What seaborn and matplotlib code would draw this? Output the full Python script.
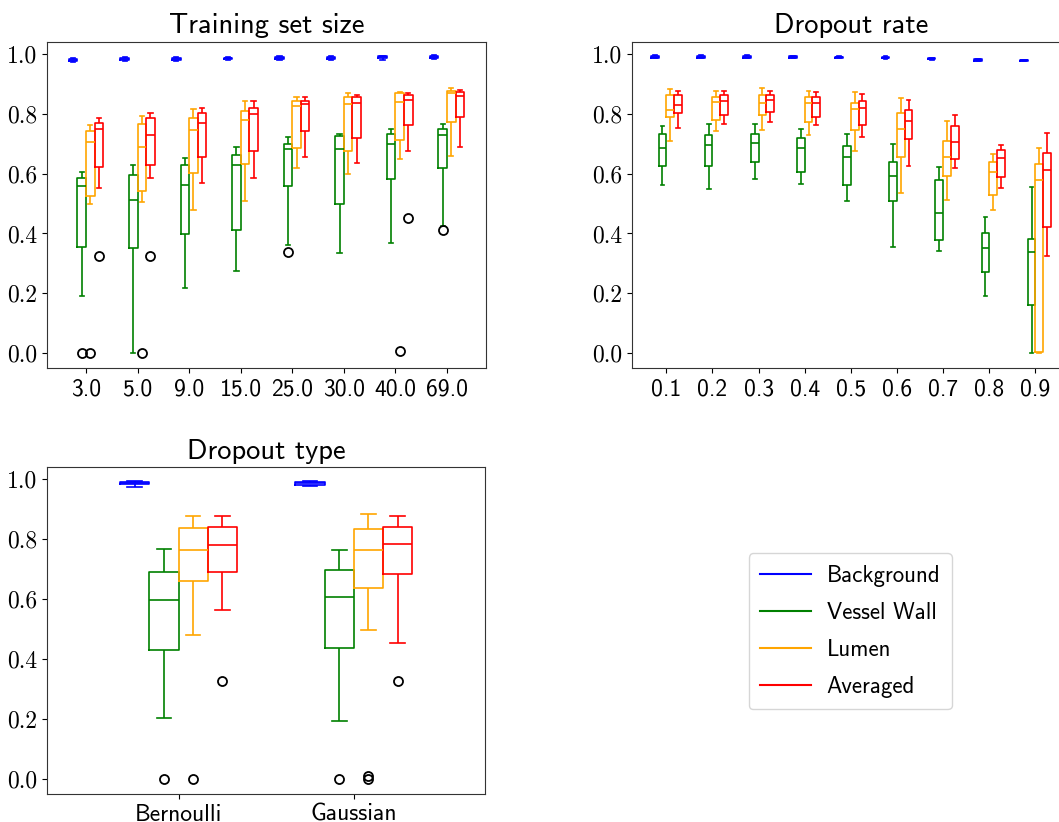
import pandas as pd
import seaborn as sns
import matplotlib.pyplot as plt
from matplotlib.lines import Line2D

# -----------------------------------------------------------------------------
# Datos: cada caja = (bigote inf, Q1, mediana, Q3, bigote sup)
# -----------------------------------------------------------------------------
classes = ["Background", "Vessel Wall", "Lumen", "Averaged"]
colors = ["blue", "green", "orange", "red"]

size_labels = ["3.0", "5.0", "9.0", "15.0", "25.0", "30.0", "40.0", "69.0"]
size_background = [
    (0.973, 0.976, 0.979, 0.982, 0.985),
    (0.977, 0.980, 0.983, 0.986, 0.989),
    (0.977, 0.980, 0.983, 0.986, 0.989),
    (0.978, 0.981, 0.984, 0.987, 0.990),
    (0.979, 0.982, 0.985, 0.988, 0.991),
    (0.978, 0.983, 0.986, 0.989, 0.992),
    (0.978, 0.985, 0.988, 0.991, 0.993),
    (0.982, 0.985, 0.988, 0.991, 0.994),
]
size_wall = [
    (0.192, 0.356, 0.559, 0.584, 0.606),
    (0.000, 0.352, 0.512, 0.595, 0.630),
    (0.217, 0.398, 0.562, 0.630, 0.651),
    (0.276, 0.411, 0.628, 0.663, 0.689),
    (0.360, 0.558, 0.682, 0.700, 0.722),
    (0.334, 0.498, 0.682, 0.725, 0.731),
    (0.367, 0.582, 0.700, 0.733, 0.748),
    (0.425, 0.618, 0.727, 0.748, 0.766),
]
size_lumen = [
    (0.498, 0.525, 0.705, 0.743, 0.763),
    (0.506, 0.541, 0.690, 0.766, 0.791),
    (0.479, 0.601, 0.746, 0.784, 0.816),
    (0.509, 0.633, 0.778, 0.808, 0.841),
    (0.618, 0.686, 0.826, 0.841, 0.857),
    (0.598, 0.674, 0.833, 0.855, 0.869),
    (0.650, 0.713, 0.840, 0.869, 0.872),
    (0.659, 0.772, 0.869, 0.874, 0.885),
]
size_averaged = [
    (0.553, 0.621, 0.748, 0.768, 0.784),
    (0.584, 0.627, 0.728, 0.784, 0.802),
    (0.568, 0.654, 0.770, 0.802, 0.819),
    (0.586, 0.674, 0.800, 0.820, 0.841),
    (0.655, 0.743, 0.832, 0.843, 0.855),
    (0.635, 0.720, 0.835, 0.857, 0.863),
    (0.675, 0.763, 0.845, 0.863, 0.869),
    (0.687, 0.788, 0.860, 0.873, 0.880),
]
size_outliers = [
    ("3.0", "Vessel Wall", 0.0), ("3.0", "Lumen", 0.0), ("3.0", "Averaged", 0.325),
    ("5.0", "Lumen", 0.0), ("5.0", "Averaged", 0.325),
    ("25.0", "Vessel Wall", 0.338),
    ("40.0", "Lumen", 0.009), ("40.0", "Averaged", 0.450),
    ("69.0", "Vessel Wall", 0.410),
]

rate_labels = ["0.1", "0.2", "0.3", "0.4", "0.5", "0.6", "0.7", "0.8", "0.9"]
rate_background = [
    (0.984, 0.987, 0.989, 0.991, 0.994),
    (0.984, 0.987, 0.989, 0.991, 0.994),
    (0.984, 0.987, 0.989, 0.991, 0.994),
    (0.985, 0.987, 0.989, 0.991, 0.993),
    (0.984, 0.986, 0.988, 0.990, 0.992),
    (0.981, 0.985, 0.987, 0.989, 0.993),
    (0.979, 0.981, 0.983, 0.985, 0.987),
    (0.975, 0.977, 0.979, 0.981, 0.983),
    (0.976, 0.977, 0.978, 0.979, 0.980),
]
rate_wall = [
    (0.562, 0.624, 0.685, 0.731, 0.757),
    (0.548, 0.624, 0.695, 0.728, 0.766),
    (0.582, 0.638, 0.702, 0.731, 0.764),
    (0.565, 0.604, 0.684, 0.718, 0.748),
    (0.509, 0.561, 0.655, 0.693, 0.731),
    (0.355, 0.508, 0.592, 0.638, 0.697),
    (0.343, 0.379, 0.468, 0.577, 0.621),
    (0.192, 0.273, 0.352, 0.400, 0.455),
    (0.000, 0.161, 0.337, 0.381, 0.555),
]
rate_lumen = [
    (0.710, 0.787, 0.812, 0.861, 0.882),
    (0.743, 0.780, 0.839, 0.857, 0.877),
    (0.746, 0.795, 0.835, 0.861, 0.885),
    (0.729, 0.772, 0.835, 0.857, 0.875),
    (0.676, 0.746, 0.816, 0.837, 0.873),
    (0.536, 0.654, 0.748, 0.802, 0.852),
    (0.511, 0.592, 0.655, 0.710, 0.776),
    (0.479, 0.527, 0.604, 0.638, 0.666),
    (0.000, 0.006, 0.577, 0.633, 0.684),
]
rate_averaged = [
    (0.752, 0.802, 0.829, 0.861, 0.877),
    (0.766, 0.795, 0.842, 0.861, 0.877),
    (0.773, 0.807, 0.844, 0.861, 0.877),
    (0.763, 0.787, 0.835, 0.854, 0.872),
    (0.722, 0.761, 0.820, 0.841, 0.865),
    (0.625, 0.716, 0.776, 0.811, 0.845),
    (0.619, 0.648, 0.704, 0.759, 0.796),
    (0.553, 0.589, 0.651, 0.677, 0.695),
    (0.325, 0.420, 0.612, 0.667, 0.734),
]
rate_outliers = []

type_labels = ["Bernoulli", "Gaussian"]
type_background = [(0.973, 0.984, 0.988, 0.992, 0.994), (0.976, 0.980, 0.986, 0.991, 0.994)]
type_wall = [(0.202, 0.429, 0.598, 0.692, 0.767), (0.193, 0.438, 0.608, 0.699, 0.764)]
type_lumen = [(0.480, 0.659, 0.764, 0.837, 0.878), (0.498, 0.636, 0.764, 0.835, 0.885)]
type_averaged = [(0.565, 0.692, 0.782, 0.840, 0.878), (0.455, 0.685, 0.784, 0.841, 0.879)]
type_outliers = [
    ("Bernoulli", "Vessel Wall", 0.0), ("Bernoulli", "Lumen", 0.0), ("Bernoulli", "Averaged", 0.326),
    ("Gaussian", "Vessel Wall", 0.0), ("Gaussian", "Lumen", 0.0), ("Gaussian", "Lumen", 0.01),
    ("Gaussian", "Averaged", 0.326),
]


# Puntos cuyo resumen de 5 numeros (percentiles de numpy) es exactamente la caja leida
def box_points(stats, low_out):
    lo, q1, med, q3, hi = stats
    m = len(low_out) + 1
    return list(low_out) + [lo] + [q1] * m + [med] * m + [q3] + [hi] * m


def long_table(labels, series, outliers):
    rows = []
    for cls, boxes in zip(classes, series):
        for lab, stats in zip(labels, boxes):
            out = [v for (g, c, v) in outliers if g == lab and c == cls]
            for v in box_points(stats, out):
                rows.append({"grupo": lab, "clase": cls, "valor": v})
    return pd.DataFrame(rows)


df_size = long_table(size_labels, [size_background, size_wall, size_lumen, size_averaged], size_outliers)
df_rate = long_table(rate_labels, [rate_background, rate_wall, rate_lumen, rate_averaged], rate_outliers)
df_type = long_table(type_labels, [type_background, type_wall, type_lumen, type_averaged], type_outliers)

# -----------------------------------------------------------------------------
# Figura
# -----------------------------------------------------------------------------
plt.rcParams["font.family"] = "cmss10"
plt.rcParams["axes.unicode_minus"] = False

fig = plt.figure(figsize=(10.59, 8.22), dpi=100)
ax1 = fig.add_axes([0.0447, 0.5519, 0.4139, 0.3974])
ax2 = fig.add_axes([0.5965, 0.5519, 0.4139, 0.3974])
ax3 = fig.add_axes([0.0444, 0.0341, 0.4139, 0.3974])

panels = [
    (ax1, df_size, size_labels, "Training set size"),
    (ax2, df_rate, rate_labels, "Dropout rate"),
    (ax3, df_type, type_labels, "Dropout type"),
]

flier_style = dict(marker="o", markeredgecolor="black", markerfacecolor="none",
                   markersize=6.5, markeredgewidth=1.3)

for ax, df, labels, title in panels:
    sns.boxplot(data=df, x="grupo", y="valor", hue="clase", order=labels,
                hue_order=classes, palette=colors, fill=False, width=2 / 3,
                gap=0, linewidth=1.2, whis=1.5, flierprops=flier_style,
                legend=False, ax=ax)
    ax.set_title(title, fontsize=20.5)
    ax.set_xlabel("")
    ax.set_ylabel("")
    ax.set_xlim(-0.75, len(labels) - 0.25)
    ax.set_ylim(-0.05, 1.04)
    ax.set_yticks([0.0, 0.2, 0.4, 0.6, 0.8, 1.0])
    ax.set_yticklabels(["0.0", "0.2", "0.4", "0.6", "0.8", "1.0"], fontfamily="cmr10", fontsize=17)
    ax.tick_params(axis="x", labelsize=17)
    for s in ax.spines.values():
        s.set_color("#333333")

handles = [Line2D([0], [0], color=c, lw=1.5) for c in colors]
fig.legend(handles, classes, loc="center", bbox_to_anchor=(0.803, 0.232),
           fontsize=16.5, handlelength=2.2, labelspacing=0.66, handletextpad=0.7,
           borderpad=0.5)

fig.savefig("out.png", dpi=100)
